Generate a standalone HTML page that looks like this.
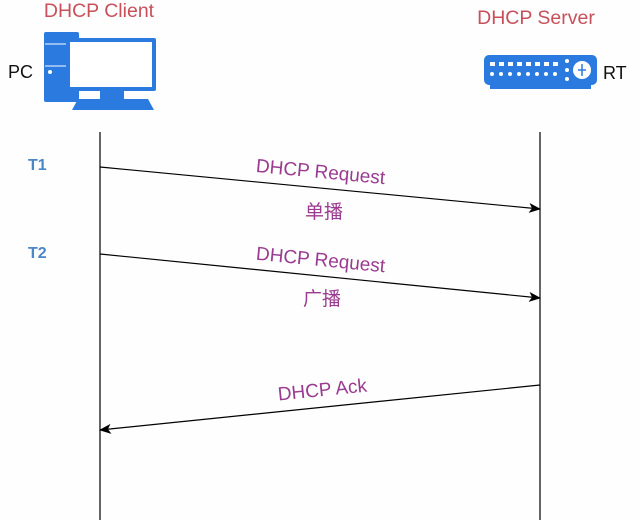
<!DOCTYPE html>
<html><head><style>
body{margin:0;background:#fff;}
svg{display:block;}
</style></head><body>
<svg width="640" height="520" xmlns="http://www.w3.org/2000/svg">
<rect width="640" height="520" fill="#fefefe"/>
<defs><marker id="a" markerWidth="12" markerHeight="10" refX="11" refY="5" orient="auto" markerUnits="userSpaceOnUse"><path d="M0,0 L12,5 L0,10 L3,5 z" fill="#000"/></marker></defs>
<g font-family="Liberation Sans, sans-serif">
<text x="99" y="17" font-size="19.5" fill="#c8505a" text-anchor="middle">DHCP Client</text>
<text x="536" y="24" font-size="19.5" fill="#c8505a" text-anchor="middle">DHCP Server</text>
<text x="8" y="78" font-size="18" fill="#111">PC</text>
<text x="603" y="79" font-size="18" fill="#111">RT</text>
<text x="28" y="170" font-size="16" font-weight="bold" fill="#4a86c8">T1</text>
<text x="28" y="258" font-size="16" font-weight="bold" fill="#4a86c8">T2</text>
</g>
<g fill="#2a7ae0">
<rect x="44" y="32" width="35" height="70" rx="2"/>
<rect x="66" y="38" width="90" height="53" rx="2"/>
<rect x="70" y="42" width="82" height="45" fill="#fff"/>
<rect x="100" y="91" width="24" height="8"/>
<path d="M78,99 L148,99 L154,110 L72,110 z"/>
</g>
<line x1="45" y1="44" x2="66" y2="44" stroke="#fff" stroke-width="1"/>
<line x1="45" y1="66" x2="66" y2="66" stroke="#fff" stroke-width="1"/>
<circle cx="50" cy="72" r="2" fill="#fff"/>
<rect x="484" y="55" width="113" height="30" rx="5" fill="#2a7ae0"/>
<rect x="490" y="84" width="101" height="5" fill="#2a7ae0"/>
<g fill="#fff">
<g><rect x="490" y="62" width="5" height="4"/><rect x="499" y="62" width="5" height="4"/><rect x="508" y="62" width="5" height="4"/><rect x="517" y="62" width="5" height="4"/><rect x="526" y="62" width="5" height="4"/><rect x="535" y="62" width="5" height="4"/><rect x="544" y="62" width="5" height="4"/><rect x="553" y="62" width="5" height="4"/></g>
<g><circle cx="492" cy="74" r="2"/><circle cx="501" cy="74" r="2"/><circle cx="510" cy="74" r="2"/><circle cx="519" cy="74" r="2"/><circle cx="528" cy="74" r="2"/><circle cx="537" cy="74" r="2"/><circle cx="546" cy="74" r="2"/><circle cx="555" cy="74" r="2"/></g>
<circle cx="567" cy="61" r="2"/><circle cx="567" cy="70" r="2"/><circle cx="567" cy="79" r="2"/>
<circle cx="582" cy="70" r="9"/>
</g>
<path d="M582,64 v12 M578,70 h8" stroke="#2a7ae0" stroke-width="1.5"/>
<line x1="100" y1="132" x2="100" y2="520" stroke="#000" stroke-width="1.2"/>
<line x1="540" y1="132" x2="540" y2="520" stroke="#000" stroke-width="1.2"/>
<line x1="100" y1="167" x2="540" y2="209" stroke="#000" stroke-width="1.2" marker-end="url(#a)"/>
<line x1="100" y1="254" x2="540" y2="298" stroke="#000" stroke-width="1.2" marker-end="url(#a)"/>
<line x1="540" y1="385" x2="100" y2="430" stroke="#000" stroke-width="1.2" marker-end="url(#a)"/>
<g font-family="Liberation Sans, 'Noto Sans CJK SC', sans-serif" fill="#9a3a90" font-size="19" text-anchor="middle">
<text transform="translate(320,178) rotate(5.4)">DHCP Request</text>
<text x="324" y="218">单播</text>
<text transform="translate(320,266) rotate(5.6)">DHCP Request</text>
<text x="322" y="305">广播</text>
<text transform="translate(323,396) rotate(-5.8)">DHCP Ack</text>
</g>
</svg>
</body></html>
